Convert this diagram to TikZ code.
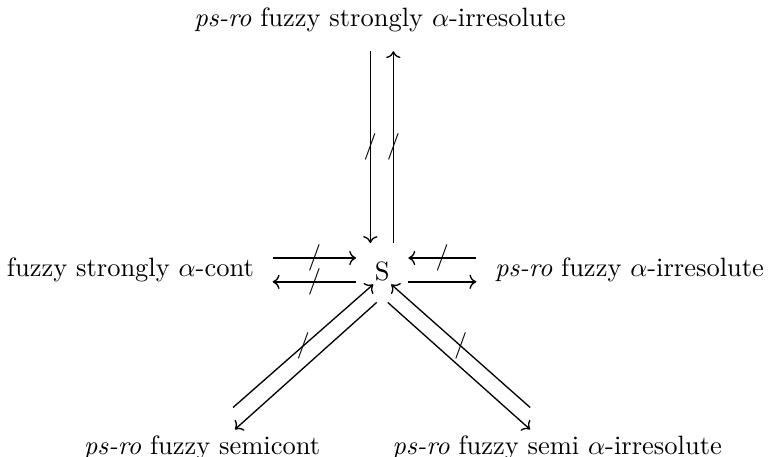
\documentclass[tikz,border=0pt]{standalone}
\usepackage{amssymb, amsmath}
\usepackage{tikz}
\usetikzlibrary{calc}
\usetikzlibrary{arrows.meta}

\begin{document}
\begin{tikzpicture}[>={To[length=2.6pt,width=5.4pt]}, line width=0.5pt, arr/.style={->, shorten >=3.5pt, shorten <=3.5pt}, notmark/.style={midway, inner sep=0pt}]
    \useasboundingbox (-5.07,-2.45) rectangle (5.13,3.6);
    \node (S) at (0,0) {S};
    \node (top) at (-0.03,3.33) {\textit{ps-ro} fuzzy strongly $\alpha$-irresolute};
    \node (left) at (-3.34,0.02) {fuzzy strongly $\alpha$-cont};
    \node (right) at (3.28,0.02) {\textit{ps-ro} fuzzy $\alpha$-irresolute};
    \node (bl) at (-2.39,-2.34) {\textit{ps-ro} fuzzy semicont};
    \node (br) at (2.32,-2.34) {\textit{ps-ro} fuzzy semi $\alpha$-irresolute};

    \draw[arr] ([xshift=-4.5pt]S.north |- top.south) -- ([xshift=-4.5pt]S.north) node[notmark] {$/$};
    \draw[arr] ([xshift=4.2pt]S.north) -- ([xshift=4.2pt]S.north |- top.south) node[notmark] {$/$};
    \draw[arr] ([yshift=4.5pt]left.east) -- ([yshift=4.5pt]left.east -| S.west) node[notmark] {$/$};
    \draw[arr] ([yshift=-4.5pt]left.east -| S.west) -- ([yshift=-4.5pt]left.east) node[notmark] {$/$};
    \draw[arr] ([yshift=4.5pt]right.west) -- ([yshift=4.5pt]right.west -| S.east) node[notmark] {$/$};
    \draw[arr] ([yshift=-4.5pt]right.west -| S.east) -- ([yshift=-4.5pt]right.west);
    \draw[->] ([shift={(11.7pt,7.1pt)}]bl.north) -- ([shift={(-3.4pt,-4.9pt)}]S.center) node[notmark] {$/$};
    \draw[->] ([shift={(-2.1pt,-11.7pt)}]S.center) -- ([shift={(12.4pt,-1.2pt)}]bl.north);
    \draw[->] ([shift={(-10.2pt,7.1pt)}]br.north) -- ([shift={(3.4pt,-4.9pt)}]S.center) node[notmark] {$/$};
    \draw[->] ([shift={(2.1pt,-11.7pt)}]S.center) -- ([shift={(-10.2pt,-1.2pt)}]br.north);
  \end{tikzpicture}
\end{document}
